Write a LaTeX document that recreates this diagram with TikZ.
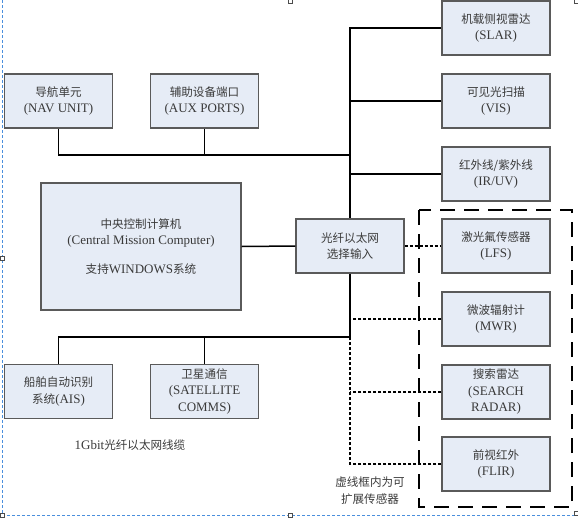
\documentclass[tikz,border=0pt]{standalone}
\usepackage{fontspec}
\setmainfont{Liberation Serif}
\newfontfamily\cjk[Scale=0.89]{Noto Sans CJK SC}
\usetikzlibrary{positioning}

\definecolor{boxfill}{HTML}{E6ECF6}
\definecolor{boxline}{HTML}{5A5A5A}
\definecolor{txtgray}{HTML}{3A3A3A}
\definecolor{framblue}{HTML}{4A8FDD}

\tikzset{
  unit/.style={draw=boxline,fill=boxfill,line width=1.1pt,minimum width=108pt,minimum height=54pt,
    align=center,inner sep=1pt,text=txtgray,font=\fontsize{13}{16.5}\selectfont},
  link/.style={line width=1.5pt},
  optlink/.style={line width=1.5pt,dash pattern=on 3pt off 2pt},
  handle/.style={draw=black!70,fill=white,line width=0.5pt,minimum size=4pt,inner sep=0pt}
}

\begin{document}
\begin{tikzpicture}[x=1pt,y=-1pt]
\useasboundingbox (0,0) rectangle (578,517);
% canvas frame
\draw[framblue,line width=0.7pt,dash pattern=on 3pt off 2pt] (2,0) -- (2,515) -- (578,515);
\foreach \hx/\hy in {2/258,2/515,290/515,576/513,290/1,576/1}
  {\node[handle] at (\hx,\hy) {};}

% left side units
\node[unit] (nav) at (58.5,101) {{\cjk 导航单元}\\(NAV UNIT)};
\node[unit] (aux) at (204.5,101) {{\cjk 辅助设备端口}\\(AUX PORTS)};
\node[unit,minimum width=200pt,minimum height=127pt] (cmc) at (141,246.5)
  {{\cjk 中央控制计算机}\\(Central Mission Computer)\\[12pt]{\cjk 支持}WINDOWS{\cjk 系统}};
\node[unit] (ais) at (58.5,391.5) {{\cjk 船舶自动识别}\\{\cjk 系统}(AIS)};
\node[unit] (sat) at (204.5,391.5) {{\cjk 卫星通信}\\(SATELLITE\\COMMS)};
\node[unit] (eth) at (350,246) {{\cjk 光纤以太网}\\{\cjk 选择输入}};

% sensors
\node[unit] (slar) at (496,28) {{\cjk 机载侧视雷达}\\(SLAR)};
\node[unit] (vis) at (496,101) {{\cjk 可见光扫描}\\(VIS)};
\node[unit] (iruv) at (496,174) {{\cjk 红外线/紫外线}\\(IR/UV)};
\node[unit] (lfs) at (496,246) {{\cjk 激光氟传感器}\\(LFS)};
\node[unit] (mwr) at (496,319) {{\cjk 微波辐射计}\\(MWR)};
\node[unit] (srch) at (496,392) {{\cjk 搜索雷达}\\(SEARCH\\RADAR)};
\node[unit] (flir) at (496,464) {{\cjk 前视红外}\\(FLIR)};

% bus junctions
\coordinate (busT) at (350,155);
\coordinate (busB) at (350,337);

% fibre trunk
\draw[link] (slar.west) -| (eth.north);
\foreach \s in {vis,iruv} {\draw[link] (\s.west) -- (\s.west -| eth.north);}
\draw[link] (nav.south) |- (busT);
\draw[link] (aux.south) -- (aux.south |- busT);
\draw[link] (cmc.east) -- (eth.west);
\draw[link] (eth.south) -- (busB);
\draw[link] (ais.north) |- (busB);
\draw[link] (sat.north) -- (sat.north |- busB);

% optional sensors
\draw[optlink] (eth.east) -- (lfs.west);
\draw[optlink] (flir.west) -| (busB);
\foreach \s in {mwr,srch} {\draw[optlink] (\s.west) -- (\s.west -| busB);}
\draw[line width=1.5pt,dash pattern=on 15pt off 9pt] (419,210) rectangle (572,507);

\node[text=txtgray,font=\fontsize{13}{16}\selectfont] (cable) at (130,445) {1Gbit{\cjk 光纤以太网线缆}};
\node[text=txtgray,align=center,font=\fontsize{13}{17}\selectfont] (note) at (370,491)
  {{\cjk 虚线框内为可}\\{\cjk 扩展传感器}};
\end{tikzpicture}
\end{document}
